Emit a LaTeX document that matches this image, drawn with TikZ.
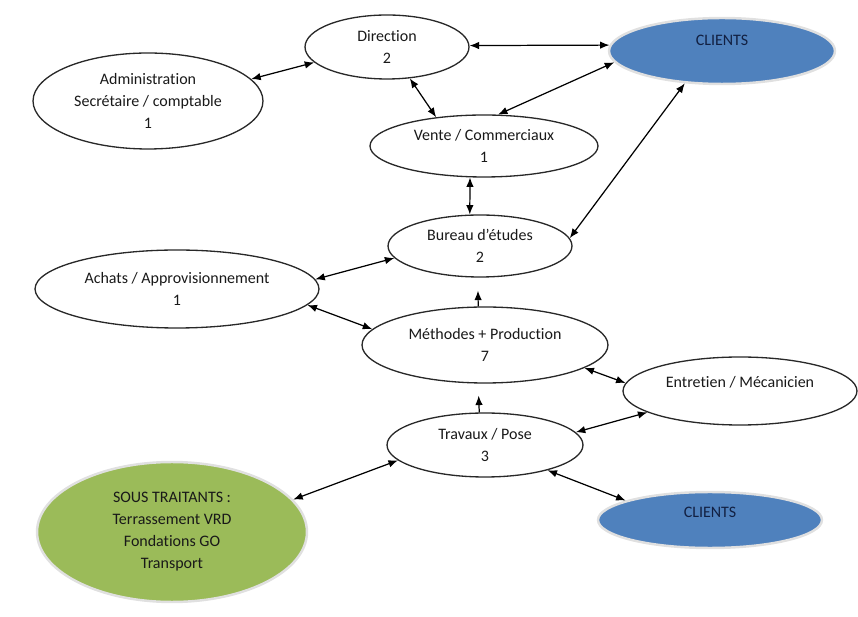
\documentclass[tikz,border=0pt]{standalone}
\usepackage{fontspec}
\setmainfont{Carlito}[Ligatures=NoCommon]
\usepackage{tikz}
\usetikzlibrary{arrows.meta,shapes.geometric,positioning}
\usepackage{xcolor}
\definecolor{trait}{RGB}{40,40,40}
\definecolor{bleuclient}{RGB}{79,129,189}
\definecolor{vertsous}{RGB}{155,187,89}
\definecolor{texte}{RGB}{25,25,25}
\definecolor{marine}{RGB}{18,32,66}

\begin{document}
\begin{tikzpicture}[x=0.02cm, y=-0.02cm,
        bulle/.style={ellipse, draw=trait, line width=0.75pt, inner sep=1pt, align=center,
                      text=texte, font=\fontsize{9.1}{12.5}\selectfont},
        client/.style={bulle, draw=black!12, line width=1.4pt, fill=bleuclient, text=marine},
        soustr/.style={bulle, draw=black!12, line width=1.4pt, fill=vertsous, text=black!90},
        lien/.style={<->, >={Latex[length=1.9mm,width=1.5mm]}, line width=0.7pt, black}
      ]
        \useasboundingbox (0,0) rectangle (858,617);

        \node[bulle, minimum width=3.28cm, minimum height=1.28cm] (dir) at (387,47) {Direction\\2};
        \node[client, minimum width=4.52cm, minimum height=1.32cm, text depth=0.44cm] (cliA) at (722,51) {CLIENTS};
        \node[bulle, minimum width=4.6cm, minimum height=1.92cm] (admin) at (148,101) {Administration\\Secrétaire / comptable\\1};
        \node[bulle, minimum width=4.56cm, minimum height=1.24cm] (vente) at (484,146) {Vente / Commerciaux\\1};
        \node[bulle, minimum width=3.68cm, minimum height=1.24cm] (bureau) at (480,246) {Bureau d’études\\2};
        \node[bulle, minimum width=5.68cm, minimum height=1.56cm] (achats) at (177,289) {Achats / Approvisionnement\\1};
        \node[bulle, minimum width=4.92cm, minimum height=1.52cm] (methodes) at (485,345) {Méthodes + Production\\7};
        \node[bulle, minimum width=4.68cm, minimum height=1.36cm, text depth=0.36cm] (entretien) at (740,391) {Entretien / Mécanicien};
        \node[bulle, minimum width=3.92cm, minimum height=1.28cm] (travaux) at (485,445) {Travaux / Pose\\3};
        \node[client, minimum width=4.48cm, minimum height=1.12cm, text depth=0.32cm] (cliB) at (710,520) {CLIENTS};
        \node[soustr, minimum width=5.4cm, minimum height=2.8cm] (sous) at (172,532) {SOUS TRAITANTS :\\Terrassement VRD\\Fondations GO\\Transport};

        % liaisons
        \draw[lien] (admin.12) -- (dir.192);
        \draw[lien] (dir.1.5) -- (cliA.177);
        \draw[lien] (dir.306) -- (vente.149);
        \draw[lien] (vente.66) -- (cliA.186);
        \draw[lien] (bureau.5) -- (cliA.221);
        \draw[lien] (vente.246) -- (bureau.108);
        \draw[lien] (achats.4) -- (bureau.188);
        \draw[lien] (achats.353) -- (methodes.172);
        \draw[lien, <-, shorten <=0.26cm] (bureau.266) -- (methodes.100);
        \draw[lien, <-, shorten <=0.24cm] (methodes.260) -- (travaux.100);
        \draw[lien] (methodes.347) -- (entretien.176);
        \draw[lien] (travaux.8) -- (entretien.193);
        \draw[lien] (travaux.338) -- (cliB.167);
        \draw[lien] (sous.15) -- (travaux.190);
      \end{tikzpicture}
\end{document}
